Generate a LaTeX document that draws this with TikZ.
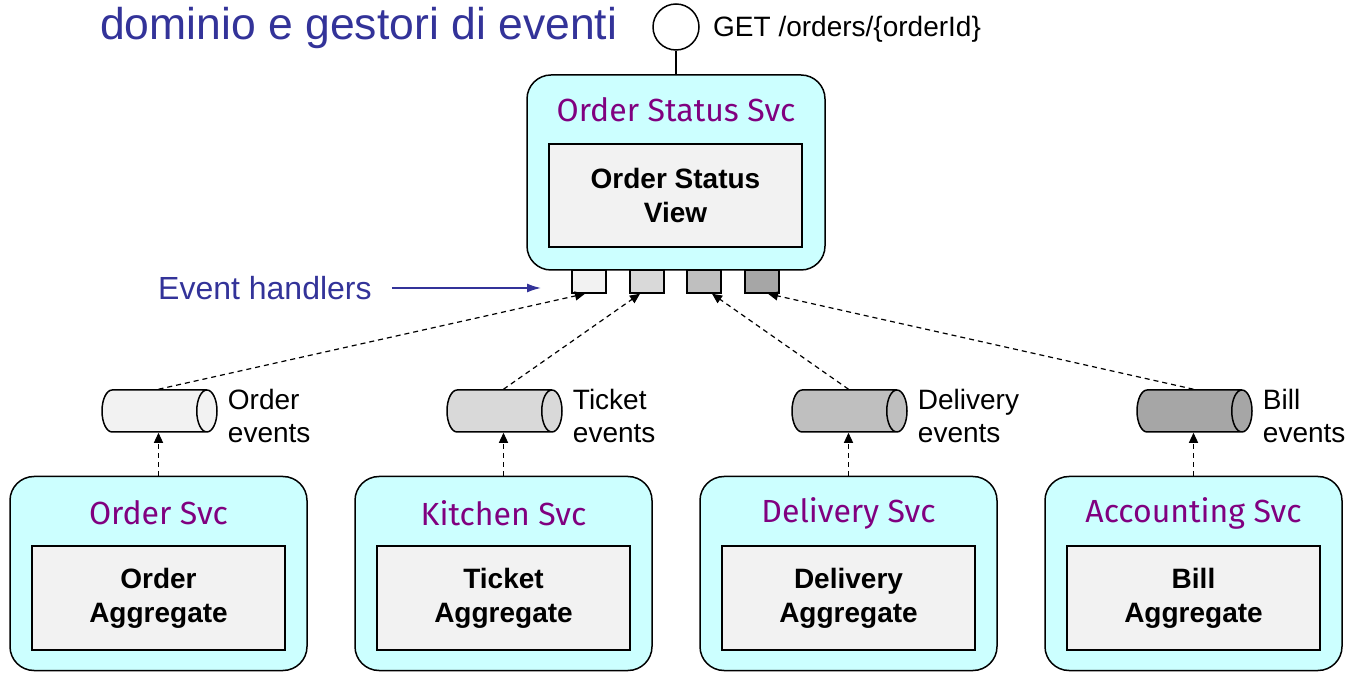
\documentclass[tikz,border=0pt]{standalone}
\usepackage{fontspec}
\setmainfont{Liberation Sans}
\newfontfamily\svcfont{Fira Sans}
\usetikzlibrary{shapes.geometric,arrows.meta,positioning}
\definecolor{svccyan}{HTML}{CCFFFF}
\definecolor{svcpurple}{HTML}{800080}
\definecolor{titleblue}{HTML}{333399}
\definecolor{aggfill}{HTML}{F2F2F2}
\definecolor{evA}{HTML}{F2F2F2}
\definecolor{evB}{HTML}{D9D9D9}
\definecolor{evC}{HTML}{BFBFBF}
\definecolor{evD}{HTML}{A6A6A6}
\begin{document}
\begin{tikzpicture}[x=1pt,y=1pt,
	svcbox/.style={draw,line width=1.5pt,rounded corners=24pt,fill=svccyan,minimum width=297pt,minimum height=194pt},
	svclabel/.style={text=svcpurple,font=\svcfont\fontsize{32}{34}\selectfont},
	aggbox/.style={draw,line width=1.5pt,fill=aggfill,minimum width=253pt,minimum height=103pt,align=center,font=\bfseries\fontsize{28}{34}\selectfont},
	handler/.style={draw,line width=1.5pt,minimum width=34pt,minimum height=23pt,inner sep=0pt},
	topic/.style={draw,line width=1.5pt,shape=cylinder,shape aspect=0.5,minimum height=115pt,minimum width=42pt,inner xsep=0pt,inner ysep=20.25pt,anchor=shape center},
	evlabel/.style={align=left,font=\fontsize{28}{33}\selectfont},
	evarrow/.style={line width=1.2pt,dash pattern=on 5pt off 4pt,-{Triangle[length=10pt,width=9pt]}}]
	\useasboundingbox (0,0) rectangle (1365,672);
	% Titel
	\node[anchor=base west,text=titleblue,font=\fontsize{44.5}{46}\selectfont,inner sep=0pt] (title) at (100,632) {dominio e gestori di eventi};
	% Order Status Svc
	\node[draw,line width=1.5pt,circle,minimum size=46pt,inner sep=0pt] (api) at (676,645) {};
	\node[anchor=west,font=\fontsize{28}{30}\selectfont,inner sep=0pt] (get) at (713,643) {GET /orders/\{orderId\}};
	\node[svcbox,minimum width=298pt,minimum height=195pt] (status) at (676,499.5) {};
	\draw[line width=1.5pt] (api) -- (status);
	\node[svclabel] (statuslbl) at (676,562) {Order Status Svc};
	\node[aggbox] (view) at (675.5,476.5) {Order Status\\View};
	\foreach \k/\x/\c in {0/589/evA,1/647/evB,2/704/evC,3/762/evD}
		\node[handler,fill=\c] (h\k) at (\x,390.5) {};
	% Event handlers
	\node[anchor=west,text=titleblue,font=\fontsize{32}{34}\selectfont,inner sep=0pt] (ehlbl) at (158,384) {Event handlers};
	\coordinate (ehtip) at (541,384);
	\draw[titleblue,line width=1.5pt,-{Latex[length=14pt,width=9pt]}] (ehlbl.east) ++(20,0) -- (ehtip);
	% Services unten
	\foreach \k/\svc/\agg/\ev/\c/\dx in {0/Order Svc/Order/Order/evA/-4,1/Kitchen Svc/Ticket/Ticket/evB/-7,2/Delivery Svc/Delivery/Delivery/evC/8,3/Accounting Svc/Bill/Bill/evD/6}{
		\node[svcbox] (svc\k) at (158.5+345*\k,98.5) {};
		\node[svclabel] (svclbl\k) at (158.5+345*\k,159) {\svc};
		\node[aggbox,minimum height=104pt] (agg\k) at (158.5+345*\k,74) {\agg\\Aggregate};
		\node[topic,fill=\c] (topic\k) at (159.5+345*\k,261) {};
		\node[evlabel,right=10pt of topic\k,yshift=-5pt,inner sep=0pt] (evlbl\k) {\ev\\events};
		\draw[evarrow] (svc\k.north) -- (svc\k.north |- topic\k.south);
		\draw[evarrow] (svc\k.north |- topic\k.north) -- ([xshift=\dx]h\k.south);
	}
\end{tikzpicture}
\end{document}
